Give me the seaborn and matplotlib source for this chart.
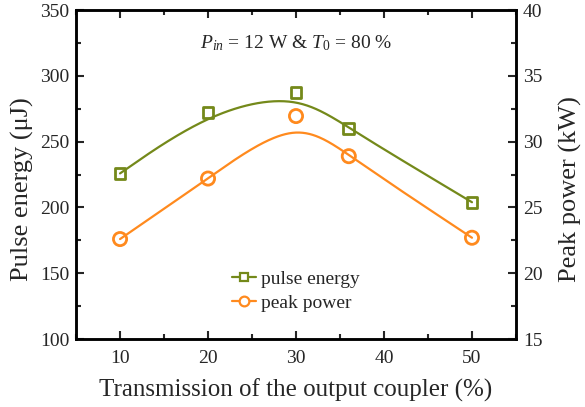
import numpy as np
import pandas as pd
import matplotlib
matplotlib.use("Agg")
import matplotlib.pyplot as plt
from matplotlib.lines import Line2D
from matplotlib.ticker import MultipleLocator
import seaborn as sns

# data
transmission = [10, 20, 30, 36, 50]          # %
pulse_energy = [225.9, 272.3, 287.5, 260.0, 204.0]   # uJ
peak_power = [22.6, 27.2, 31.95, 28.9, 22.7]          # kW

energy_color = '#74891a'
power_color = '#ff8a1e'

sns.set_theme(style="ticks")
plt.rcParams['font.family'] = ['Liberation Serif', 'DejaVu Serif']
plt.rcParams['mathtext.fontset'] = 'custom'
plt.rcParams['mathtext.rm'] = 'Liberation Serif'
plt.rcParams['mathtext.it'] = 'Liberation Serif:italic'


def bspline(xs, ys, n_seg=60):
    # uniform cubic B-spline, data points as control points,
    # end points tripled so the curve starts/ends on them
    P = np.column_stack([xs, ys]).astype(float)
    Q = np.vstack([P[:1], P[:1], P, P[-1:], P[-1:]])
    u = np.linspace(0, 1, n_seg)[:, None]
    b0 = (1 - u) ** 3
    b1 = 3 * u ** 3 - 6 * u ** 2 + 4
    b2 = -3 * u ** 3 + 3 * u ** 2 + 3 * u + 1
    b3 = u ** 3
    pts = []
    for i in range(len(Q) - 3):
        seg = (b0 * Q[i] + b1 * Q[i + 1] + b2 * Q[i + 2] + b3 * Q[i + 3]) / 6
        pts.append(seg if i == 0 else seg[1:])
    C = np.vstack(pts)
    return C[:, 0], C[:, 1]


ex, ey = bspline(transmission, pulse_energy)
px, py = bspline(transmission, peak_power)
energy_curve = pd.DataFrame({"x": ex, "y": ey})
power_curve = pd.DataFrame({"x": px, "y": py})
df = pd.DataFrame({"x": transmission, "energy": pulse_energy, "power": peak_power})

fig = plt.figure(figsize=(5.85, 4.07), dpi=100)
ax = fig.add_axes([0.130, 0.167, 0.752, 0.808])
ax2 = ax.twinx()

sns.lineplot(data=energy_curve, x="x", y="y", ax=ax, color=energy_color, lw=1.6, sort=False)
sns.scatterplot(data=df, x="x", y="energy", ax=ax, marker='s', s=60,
                facecolors='none', edgecolor=energy_color, linewidth=2, zorder=5)
sns.lineplot(data=power_curve, x="x", y="y", ax=ax2, color=power_color, lw=1.6, sort=False)
sns.scatterplot(data=df, x="x", y="power", ax=ax2, marker='o', s=90,
                facecolors='none', edgecolor=power_color, linewidth=2, zorder=5)

ax.set_xlim(5, 55)
ax.set_ylim(100, 350)
ax2.set_ylim(15, 40)
ax.xaxis.set_major_locator(MultipleLocator(10))
ax.xaxis.set_minor_locator(MultipleLocator(5))
ax.yaxis.set_major_locator(MultipleLocator(50))
ax.yaxis.set_minor_locator(MultipleLocator(25))
ax2.yaxis.set_major_locator(MultipleLocator(5))
ax2.yaxis.set_minor_locator(MultipleLocator(2.5))

ax.tick_params(axis='x', which='both', direction='in', top=True, labelsize=14, pad=8)
ax.tick_params(axis='y', which='both', direction='in', labelsize=14, pad=5)
ax.tick_params(which='major', length=6, width=1.5)
ax.tick_params(which='minor', length=3.5, width=1.5)
ax2.tick_params(axis='y', which='both', direction='in', labelsize=14, pad=5)
ax2.tick_params(which='major', length=6, width=1.5)
ax2.tick_params(which='minor', length=3.5, width=1.5)
for a in (ax, ax2):
    for sp in a.spines.values():
        sp.set_linewidth(1.8)
        sp.set_color('black')

ax.set_xlabel("Transmission of the output coupler (%)", fontsize=18, labelpad=8)
ax.set_ylabel("Pulse energy (\u03bcJ)", fontsize=19, labelpad=4, y=0.455)
ax2.set_ylabel("Peak power (kW)", fontsize=19, labelpad=12, y=0.455)

ax.text(30, 325, r"$P_{in}$ = 12 W & $T_0$ = 80 %", ha='center', va='center', fontsize=14)

handles = [
    Line2D([], [], color=energy_color, lw=1.6, marker='s', ms=6, mfc='white', mew=1.6),
    Line2D([], [], color=power_color, lw=1.6, marker='o', ms=7, mfc='white', mew=1.6),
]
ax.legend(handles, ["pulse energy", "peak power"], loc='center left',
          bbox_to_anchor=(0.355, 0.146), frameon=False, fontsize=14,
          borderaxespad=0, borderpad=0,
          handlelength=1.2, handletextpad=0.3, labelspacing=0.3)

fig.savefig("out.png", dpi=100)
